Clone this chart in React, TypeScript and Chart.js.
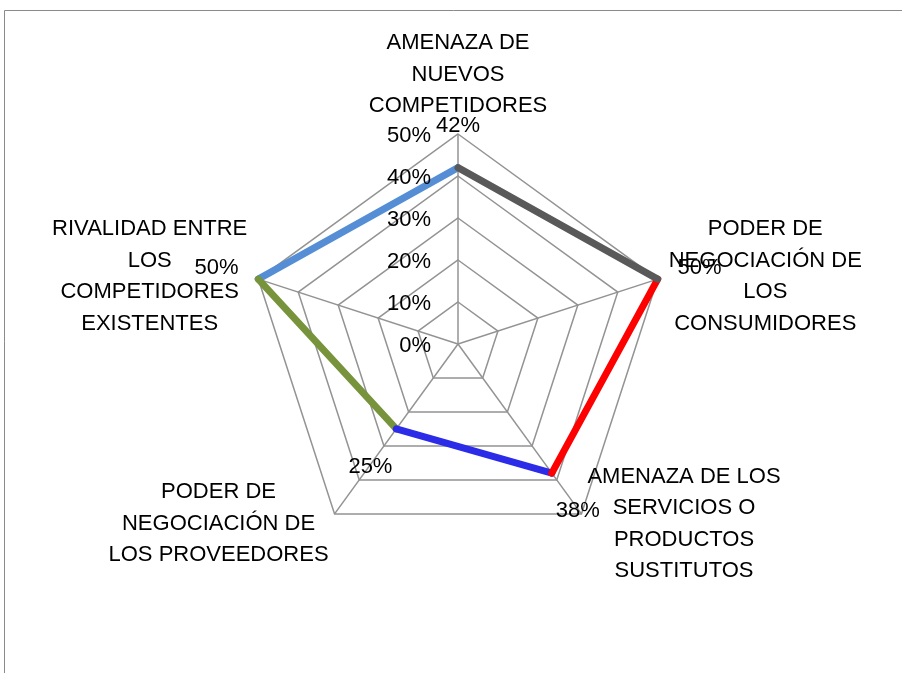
import React, { useEffect, useRef } from "react";
import { Chart, registerables } from "chart.js";

Chart.register(...registerables);

const categories: string[][] = [
  ["AMENAZA DE", "NUEVOS", "COMPETIDORES"],
  ["PODER DE", "NEGOCIACIÓN DE", "LOS", "CONSUMIDORES"],
  ["AMENAZA DE LOS", "SERVICIOS O", "PRODUCTOS", "SUSTITUTOS"],
  ["PODER DE", "NEGOCIACIÓN DE", "LOS PROVEEDORES"],
  ["RIVALIDAD ENTRE", "LOS", "COMPETIDORES", "EXISTENTES"],
];
const values: number[] = [42, 50, 38, 25, 50];
const tickValues: number[] = [0, 10, 20, 30, 40, 50];
const segmentColors: string[] = ["#595959", "#FF0000", "#2B2BE8", "#77933C", "#558ED5"];

const FONT = '22px "Liberation Sans", Arial, sans-serif';
const LINE_H = 31.5;

const edgeDatasets = segmentColors.map((color, k) => {
  const n = values.length;
  const a = k;
  const b = (k + 1) % n;
  return {
    data: values.map((v, i) => (i === a || i === b ? v : null)),
    fill: false,
    spanGaps: false,
    borderWidth: 7,
    borderColor: color,
    borderCapStyle: "round",
    borderJoinStyle: "round",
    pointRadius: 0,
    pointHoverRadius: 0,
    clip: false,
  } as any;
});

const overlayPlugin = {
  id: "overlay",
  beforeDraw(chart: any) {
    const ctx = chart.ctx;
    ctx.save();
    ctx.strokeStyle = "#8A8A8A";
    ctx.lineWidth = 1;
    ctx.beginPath();
    ctx.moveTo(4.5, chart.height);
    ctx.lineTo(4.5, 10.5);
    ctx.lineTo(chart.width, 10.5);
    ctx.stroke();
    ctx.restore();
  },
  afterDraw(chart: any) {
    const ctx = chart.ctx;
    const scale = chart.scales.r;
    const R = scale.drawingArea;
    ctx.save();
    ctx.font = FONT;
    ctx.fillStyle = "#000000";
    ctx.textBaseline = "alphabetic";

    ctx.textAlign = "right";
    tickValues.forEach((v) => {
      const y = scale.yCenter - scale.getDistanceFromCenterForValue(v);
      ctx.fillText(v + "%", scale.xCenter - 27, y + 8);
    });

    categories.forEach((lines, i) => {
      const p = scale.getPointPosition(i, R);
      const dx = p.x - scale.xCenter;
      const dy = p.y - scale.yCenter;
      const maxW = Math.max(...lines.map((l) => ctx.measureText(l).width));
      let cx: number;
      let cy: number;
      if (Math.abs(dx) < 5) {
        cx = p.x;
        cy = p.y - 61.5;
      } else {
        const gap = dy > 0 ? 6 : 11;
        cx = dx > 0 ? p.x + gap + maxW / 2 : p.x - gap - maxW / 2;
        cy = dy > 0 ? p.y + 8 : p.y - 4.5;
      }
      ctx.textAlign = "center";
      const n = lines.length;
      lines.forEach((l, k) => {
        ctx.fillText(l, cx, cy - ((n - 1) / 2) * LINE_H + k * LINE_H + 8);
      });
    });

    ctx.textAlign = "center";
    values.forEach((v, i) => {
      const p = scale.getPointPosition(i, scale.getDistanceFromCenterForValue(v) + 44);
      ctx.fillText(v + "%", p.x, p.y + 8);
    });
    ctx.restore();
  },
};

export default function App() {
  const ref = useRef<HTMLCanvasElement | null>(null);
  useEffect(() => {
    if (!ref.current) return;
    const chart = new Chart(ref.current, {
      type: "radar",
      data: {
        labels: categories,
        datasets: edgeDatasets,
      },
      options: {
        responsive: false,
        animation: false,
        events: [],
        elements: { line: { borderWidth: 7 } },
        layout: { padding: { left: 248, top: 134, right: 234, bottom: 119 } },
        plugins: { legend: { display: false }, tooltip: { enabled: false }, title: { display: false } },
        scales: {
          r: {
            min: 0,
            max: 50,
            ticks: { display: false, stepSize: 10 },
            grid: { color: "#939393", lineWidth: 1.5 },
            angleLines: { display: true, color: "#939393", lineWidth: 1.5 },
            pointLabels: { display: false },
          },
        },
      },
      plugins: [overlayPlugin],
    });
    return () => chart.destroy();
  }, []);
  return (
    <div style={{ position: "absolute", left: 0, top: 0, width: 902, height: 673, background: "#fff" }}>
      <canvas ref={ref} width={902} height={673} style={{ display: "block" }} />
    </div>
  );
}
